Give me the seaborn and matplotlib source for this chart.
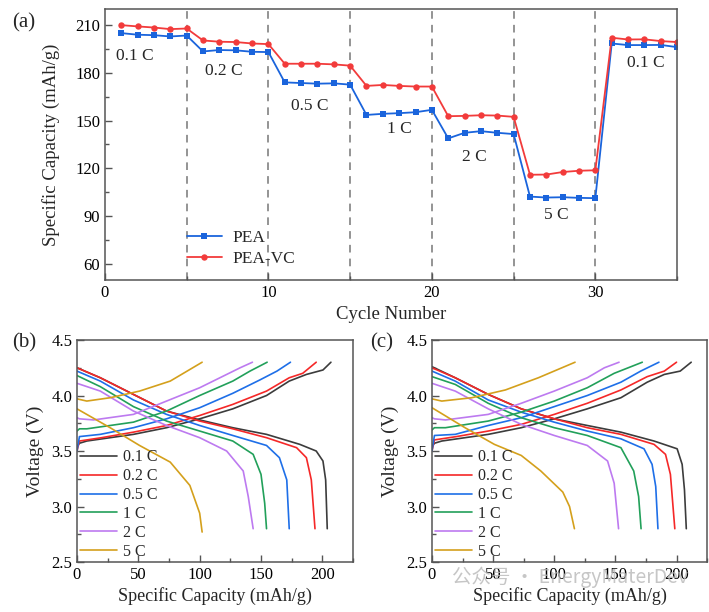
import numpy as np
import pandas as pd
import matplotlib
matplotlib.use("Agg")
import matplotlib.pyplot as plt
import seaborn as sns
from matplotlib.ticker import MultipleLocator

# ---- (a) rate capability data ----
cycles = list(range(1, 36))
pea = [204.8, 203.8, 203.5, 202.7, 203.3,
       193.3, 194.2, 194.0, 193.1, 192.9,
       173.9, 173.5, 173.1, 173.3, 172.5,
       153.5, 154.2, 154.6, 155.2, 156.7,
       138.8, 142.3, 143.3, 142.3, 141.5,
       102.3, 101.7, 101.9, 101.5, 101.3,
       198.3, 197.3, 197.3, 197.4, 196.0]
pea_vc = [209.8, 209.0, 208.3, 207.3, 207.7,
          200.2, 199.4, 199.2, 198.3, 197.9,
          185.6, 185.6, 185.6, 185.2, 184.4,
          171.7, 172.3, 171.7, 171.3, 171.3,
          152.7, 152.9, 153.3, 153.1, 152.3,
          116.0, 116.1, 117.7, 118.5, 118.8,
          201.9, 200.8, 200.9, 199.8, 199.2]
rate_names = ["0.1 C", "0.2 C", "0.5 C", "1 C", "2 C", "5 C", "0.1 C"]
rate_x = [1.8, 7.3, 12.5, 18.0, 22.6, 27.6, 33.1]
rate_y = [190.6, 181.0, 159.0, 144.4, 127.0, 90.8, 186.0]
step_lines = [5, 10, 15, 20, 25, 30]

# ---- (b) PEA charge / discharge curves ----
rates = ["0.1 C", "0.2 C", "0.5 C", "1 C", "2 C", "5 C"]
colors = ["#3c3c3c", "#f52828", "#1e6fe8", "#22a05a", "#bd7af0", "#d4a01c"]

b_chg_cap = [
    [0, 2, 8, 46, 73, 100, 127, 154.5, 173, 187, 200.5, 207],
    [0, 2, 20, 46, 73, 100, 127, 154.5, 173, 184, 195],
    [0, 2, 19, 46, 73, 100, 127, 149, 163, 174],
    [0, 2, 8, 46, 73, 100, 127, 141, 155],
    [0, 2, 13.5, 46, 73, 100, 122, 133, 143],
    [0, 8, 27, 51, 76, 102],
]
b_chg_v = [
    [3.54, 3.57, 3.59, 3.65, 3.71, 3.79, 3.88, 4.00, 4.13, 4.19, 4.23, 4.30],
    [3.50, 3.59, 3.62, 3.67, 3.73, 3.82, 3.92, 4.04, 4.16, 4.20, 4.30],
    [3.50, 3.63, 3.65, 3.71, 3.79, 3.89, 4.02, 4.14, 4.22, 4.30],
    [3.68, 3.70, 3.70, 3.76, 3.86, 4.00, 4.13, 4.22, 4.30],
    [3.80, 3.79, 3.78, 3.83, 3.95, 4.07, 4.19, 4.25, 4.30],
    [3.97, 3.95, 3.98, 4.04, 4.13, 4.30],
]
b_dis_cap = [
    [0, 19, 46, 73, 100, 127, 154.5, 181.6, 195, 200.5, 202.7, 204],
    [0, 19, 46, 73, 100, 127, 154.5, 179, 187, 191, 194],
    [0, 19, 46, 73, 100, 127, 154.5, 165, 171, 173],
    [0, 19, 46, 73, 100, 127, 143.6, 150, 153, 154.5],
    [0, 19, 46, 73, 100, 122, 135.5, 139.6, 143.6],
    [0, 27, 51, 76, 92, 100, 102],
]
b_dis_v = [
    [4.25, 4.16, 4.01, 3.86, 3.78, 3.71, 3.65, 3.56, 3.50, 3.41, 3.24, 2.80],
    [4.25, 4.16, 4.01, 3.86, 3.77, 3.70, 3.62, 3.53, 3.44, 3.24, 2.80],
    [4.22, 4.13, 3.96, 3.83, 3.73, 3.64, 3.55, 3.44, 3.24, 2.80],
    [4.18, 4.08, 3.90, 3.77, 3.68, 3.59, 3.47, 3.29, 3.03, 2.80],
    [4.11, 4.04, 3.86, 3.73, 3.62, 3.50, 3.32, 3.09, 2.80],
    [3.88, 3.71, 3.55, 3.40, 3.19, 2.94, 2.77],
]

# ---- (c) PEA-VC charge / discharge curves ----
c_chg_cap = [
    [0, 2, 8, 46, 73, 100, 127, 154.5, 176, 190, 203, 212],
    [0, 2, 20, 46, 73, 100, 127, 154.5, 176, 190, 200],
    [0, 2, 19, 46, 73, 100, 127, 154.5, 170.7, 185.6],
    [0, 2, 11, 46, 73, 100, 127, 149, 172],
    [0, 2, 11, 46, 73, 100, 127, 141, 153],
    [0, 8, 32.5, 60, 87, 117],
]
c_chg_v = [
    [3.54, 3.57, 3.59, 3.65, 3.71, 3.79, 3.88, 3.98, 4.12, 4.19, 4.22, 4.30],
    [3.50, 3.60, 3.63, 3.68, 3.74, 3.83, 3.93, 4.05, 4.17, 4.22, 4.30],
    [3.50, 3.64, 3.65, 3.73, 3.80, 3.90, 4.00, 4.12, 4.22, 4.30],
    [3.69, 3.71, 3.71, 3.77, 3.85, 3.95, 4.07, 4.20, 4.30],
    [3.80, 3.79, 3.78, 3.83, 3.93, 4.04, 4.16, 4.25, 4.30],
    [3.97, 3.95, 3.98, 4.05, 4.16, 4.30],
]
c_dis_cap = [
    [0, 19, 46, 73, 100, 127, 154.5, 181.6, 200.5, 204.6, 206.5, 208],
    [0, 19, 46, 73, 100, 127, 154.5, 181.6, 191, 195, 198.6],
    [0, 19, 46, 73, 100, 127, 154.5, 173.4, 180, 183, 184.8],
    [0, 19, 46, 73, 100, 127, 154.5, 165, 169, 171],
    [0, 19, 46, 73, 100, 127, 143.6, 149, 152.6],
    [0, 27, 51, 73, 89, 107, 112.5, 116.5],
]
c_dis_v = [
    [4.26, 4.16, 4.01, 3.88, 3.79, 3.73, 3.67, 3.59, 3.52, 3.38, 3.15, 2.80],
    [4.25, 4.16, 4.01, 3.88, 3.79, 3.71, 3.65, 3.56, 3.47, 3.29, 2.80],
    [4.22, 4.13, 3.96, 3.85, 3.76, 3.68, 3.61, 3.52, 3.38, 3.18, 2.80],
    [4.17, 4.10, 3.93, 3.80, 3.71, 3.64, 3.53, 3.32, 3.09, 2.80],
    [4.11, 4.04, 3.88, 3.74, 3.64, 3.55, 3.41, 3.21, 2.80],
    [3.89, 3.71, 3.56, 3.46, 3.32, 3.13, 3.00, 2.80],
]

sns.set_style("ticks")
plt.rcParams["font.family"] = ["Liberation Serif", "DejaVu Serif"]
plt.rcParams["axes.edgecolor"] = "#555555"
plt.rcParams["axes.linewidth"] = 1.1
plt.rcParams["xtick.color"] = "#555555"
plt.rcParams["ytick.color"] = "#555555"
plt.rcParams["xtick.labelcolor"] = "black"
plt.rcParams["ytick.labelcolor"] = "black"

fig = plt.figure(figsize=(7.09, 6.12), dpi=100)
ax_a = fig.add_axes([0.148, 0.5425, 0.807, 0.443])
ax_b = fig.add_axes([0.1086, 0.0817, 0.3893, 0.3627])
ax_c = fig.add_axes([0.6093, 0.0817, 0.388, 0.3627])

# (a)
for x in step_lines:
    ax_a.axvline(x, color="#777777", ls=(0, (5, 4)), lw=1.1, zorder=0)
sns.lineplot(x=cycles, y=pea, ax=ax_a, color="#1a64dc", marker="s", markersize=4,
             markeredgewidth=0, lw=1.3, label="PEA")
sns.lineplot(x=cycles, y=pea_vc, ax=ax_a, color="#f23b3b", marker="o", markersize=4.6,
             markeredgewidth=0, lw=1.3, label="PEA-VC")
for name, x, y in zip(rate_names, rate_x, rate_y):
    ax_a.text(x, y, name, ha="center", va="center", fontsize=12.5)
ax_a.set_xlim(0, 35)
ax_a.set_ylim(50, 220)
ax_a.xaxis.set_major_locator(MultipleLocator(10))
ax_a.xaxis.set_minor_locator(MultipleLocator(5))
ax_a.yaxis.set_major_locator(MultipleLocator(30))
ax_a.yaxis.set_minor_locator(MultipleLocator(15))
ax_a.set_xlabel("Cycle Number", fontsize=13.5, labelpad=4)
ax_a.set_ylabel("Specific Capacity (mAh/g)", fontsize=13.5, labelpad=11)
ax_a.legend(loc="lower left", bbox_to_anchor=(0.116, -0.01), frameon=False,
            fontsize=12.5, handlelength=2.0, handletextpad=0.6, labelspacing=0.3)

# (b) and (c)
for ax, chg_cap, chg_v, dis_cap, dis_v in [
        (ax_b, b_chg_cap, b_chg_v, b_dis_cap, b_dis_v),
        (ax_c, c_chg_cap, c_chg_v, c_dis_cap, c_dis_v)]:
    for i, rate in enumerate(rates):
        sns.lineplot(x=chg_cap[i], y=chg_v[i], ax=ax, color=colors[i], lw=1.2,
                     sort=False, estimator=None, label=rate)
        sns.lineplot(x=dis_cap[i], y=dis_v[i], ax=ax, color=colors[i], lw=1.2,
                     sort=False, estimator=None)
    ax.set_xlim(0, 225)
    ax.set_ylim(2.5, 4.5)
    ax.xaxis.set_major_locator(MultipleLocator(50))
    ax.xaxis.set_minor_locator(MultipleLocator(25))
    ax.yaxis.set_major_locator(MultipleLocator(0.5))
    ax.yaxis.set_minor_locator(MultipleLocator(0.25))
    ax.set_xlabel("Specific Capacity (mAh/g)", fontsize=13, labelpad=3)
    ax.set_ylabel("Voltage (V)", fontsize=14, labelpad=5)
    ax.legend(loc="lower left", bbox_to_anchor=(-0.04, -0.055), frameon=False,
              fontsize=11.5, handlelength=2.3, handletextpad=0.35, labelspacing=0.18)

for ax in [ax_a, ax_b, ax_c]:
    ax.tick_params(which="both", direction="in", labelsize=12)
    ax.tick_params(which="major", length=5, width=1)
    ax.tick_params(which="minor", length=3, width=1)

fig.text(0.017, 0.963, "(a)", fontsize=15, va="center")
fig.text(0.017, 0.44, "(b)", fontsize=15, va="center")
fig.text(0.522, 0.44, "(c)", fontsize=15, va="center")
fig.text(0.638, 0.057, "公众号 · EnergyMaterDev", fontsize=14, color="#b8b8b8", alpha=0.8,
         family=["Noto Sans CJK SC", "DejaVu Sans"], va="center")

fig.savefig("out.png", dpi=100)
